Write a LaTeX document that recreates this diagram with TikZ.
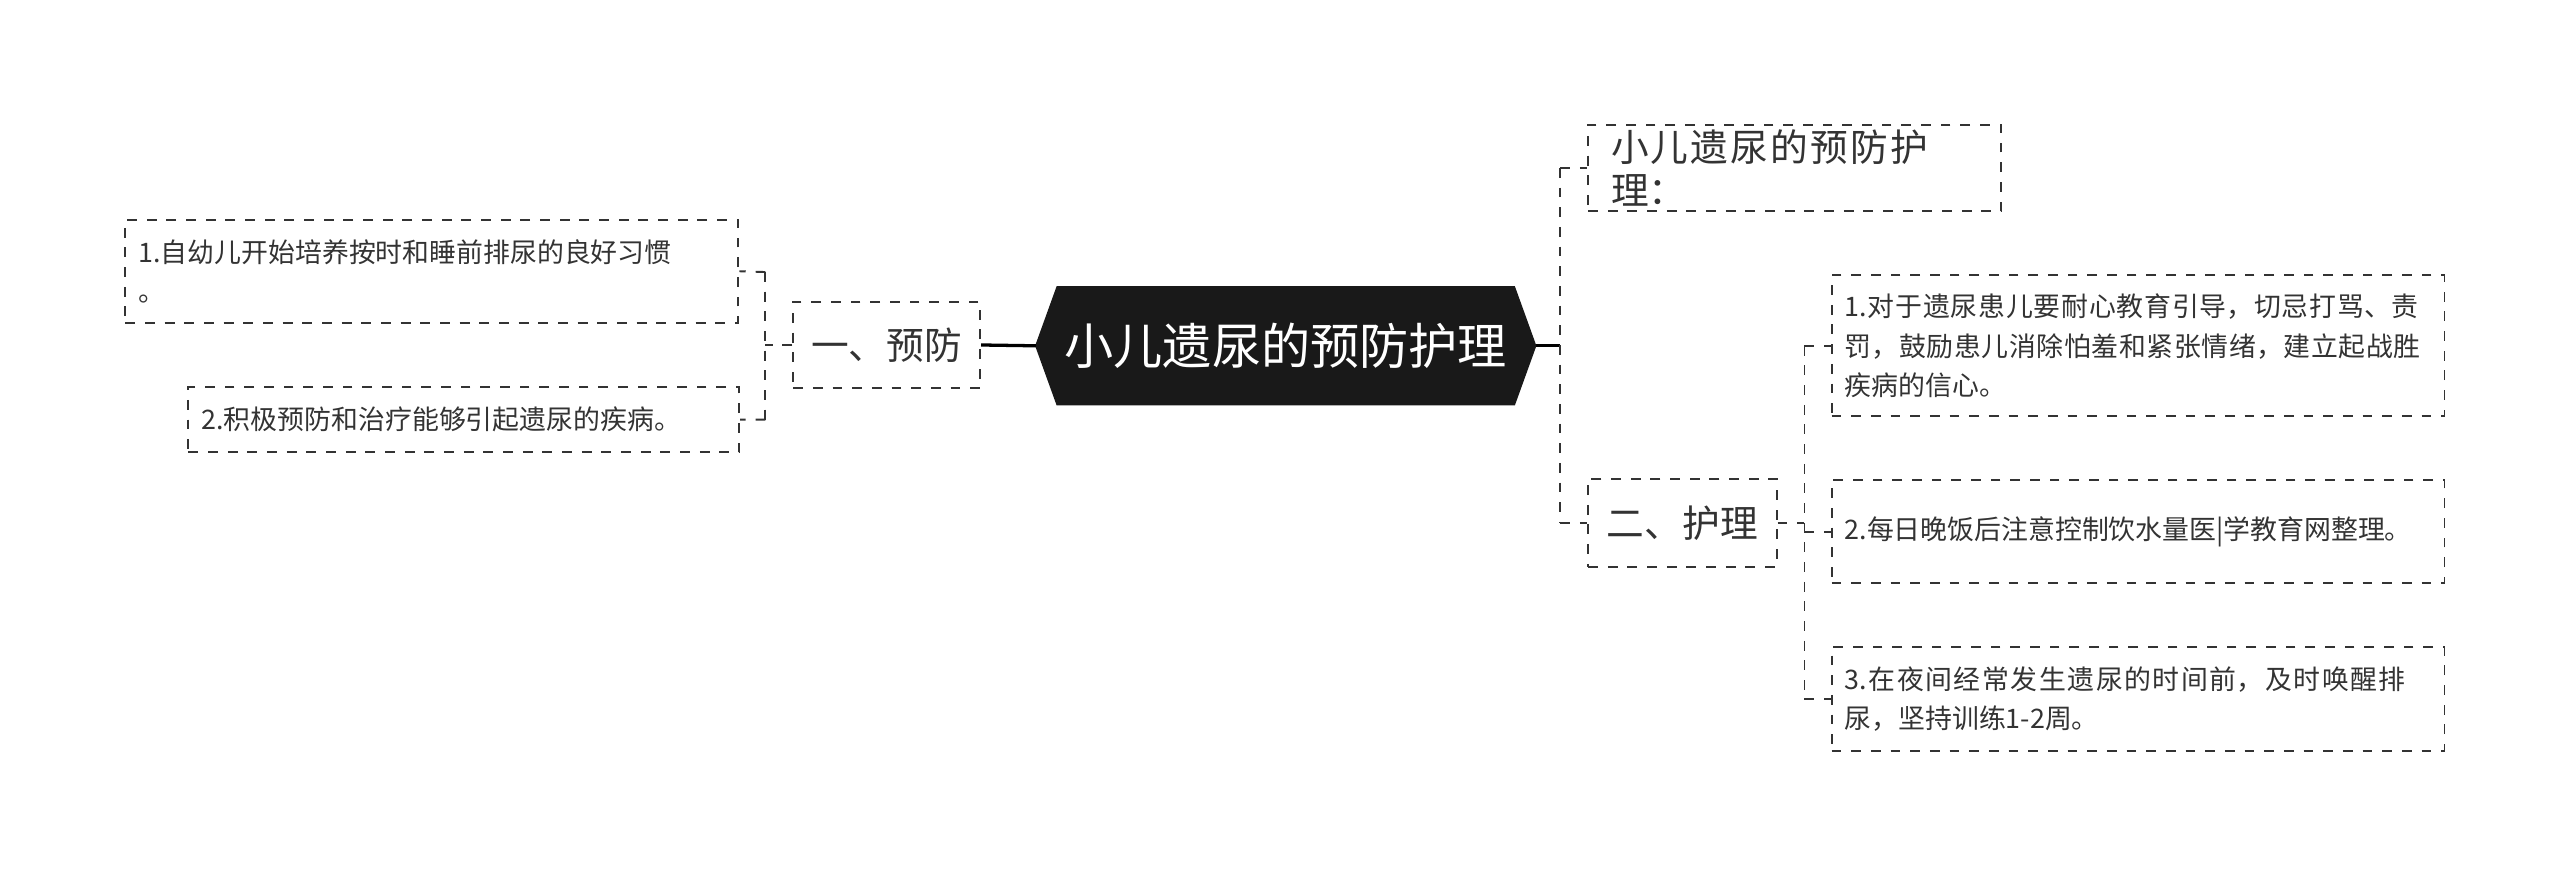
\documentclass[tikz,border=0pt]{standalone}
\usepackage{fontspec}
\setmainfont{Noto Sans CJK SC}
\XeTeXlinebreaklocale "zh"
\XeTeXlinebreakskip=0pt plus 1pt
\usetikzlibrary{shapes.geometric}
\definecolor{tx}{HTML}{333333}
\begin{document}
\begin{tikzpicture}[x=0.5pt,y=-0.5pt,
  bx/.style={draw=tx,dashed,line width=0.6pt,inner sep=0pt,text=tx},
  leaf/.style={bx,align=left,font=\fontsize{8.2}{12}\selectfont,text width=#1,inner xsep=4pt},
  br/.style={draw=tx,dashed,line width=0.6pt},
  sl/.style={draw=black,line width=1pt}]
\useasboundingbox (0,0) rectangle (1562,533);
\path[fill=black!90,draw=black!90] (632,211)--(645,175)--(924,175)--(937,211)--(924,247)--(645,247)--cycle;
\node[text=white,font=\fontsize{15}{17}\selectfont] (c) at (784.5,211) {小儿遗尿的预防护理};
\coordinate (cl) at (632,211); \coordinate (cr) at (937,211);
\node[bx,minimum width=57pt,minimum height=26.5pt,font=\fontsize{11.5}{13}\selectfont] (a) at (541,210.5) {一、预防};
\node[leaf=179pt,minimum height=31.5pt] (a1) at (263.5,165.5) {1.自幼儿开始培养按时和睡前排尿的良好习惯\\。};
\node[leaf=160pt,minimum height=20pt] (a2) at (283,256) {2.积极预防和治疗能够引起遗尿的疾病。};
\node[bx,text width=112pt,inner xsep=7pt,minimum height=26.5pt,font=\fontsize{11.5}{13}\selectfont,align=left] (b1) at (1095,102.5) {小儿遗尿的预防护理：};
\node[bx,minimum width=57.5pt,minimum height=27pt,font=\fontsize{11.5}{13}\selectfont] (b2) at (1026.5,319) {二、护理};
\node[leaf=179pt,minimum height=43pt] (c1) at (1304.5,211) {1.对于遗尿患儿要耐心教育引导，切忌打骂、责罚，鼓励患儿消除怕羞和紧张情绪，建立起战胜疾病的信心。};
\node[leaf=179pt,minimum height=31.5pt] (c2) at (1304.5,324.5) {2.每日晚饭后注意控制饮水量医|学教育网整理。};
\node[leaf=179pt,minimum height=31.5pt] (c3) at (1304.5,426.5) {3.在夜间经常发生遗尿的时间前，及时唤醒排尿，坚持训练1-2周。};
\draw[sl] (cl) -- (a.east);
\draw[br] (a.west) -- (467,210.5) (467,166) -- (467,256);
\draw[br] (467,166) -- (a1.east) (467,256) -- (a2.east);
\draw[sl] (cr) -- (952,211);
\draw[br] (952,102.5) -- (952,319) (952,102.5) -- (b1.west) (952,319) -- (b2.west);
\draw[br] (b2.east) -- (1101,319) (1101,211) -- (1101,426.5);
\draw[br] (1101,211) -- (c1.west) (1101,324.5) -- (c2.west) (1101,426.5) -- (c3.west);
\end{tikzpicture}
\end{document}
